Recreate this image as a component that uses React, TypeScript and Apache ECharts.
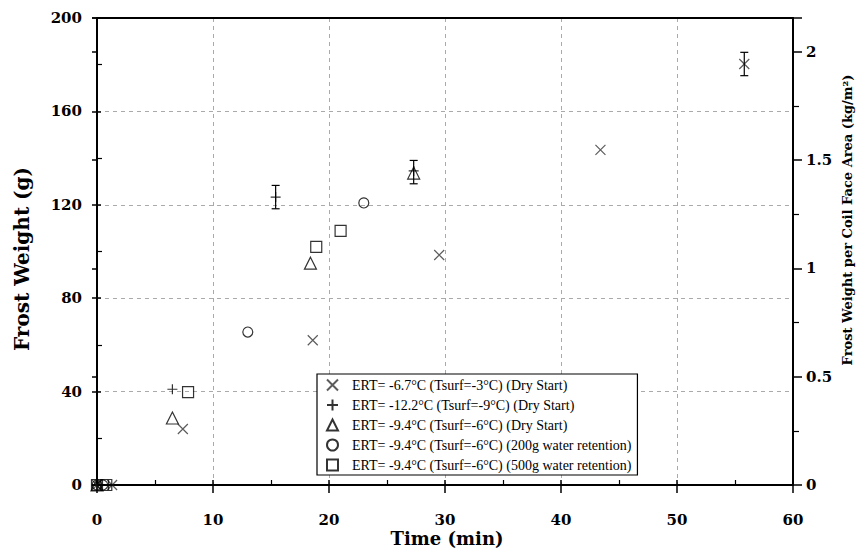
import React, { useEffect, useRef } from "react";
import * as echarts from "echarts";

const seriesNames = [
  "ERT= -6.7°C (Tsurf=-3°C) (Dry Start)",
  "ERT= -12.2°C (Tsurf=-9°C) (Dry Start)",
  "ERT= -9.4°C (Tsurf=-6°C) (Dry Start)",
  "ERT= -9.4°C (Tsurf=-6°C) (200g water retention)",
  "ERT= -9.4°C (Tsurf=-6°C) (500g water retention)",
];

// [time (min), frost weight (g)]
const ert67: number[][] = [[0, 0], [1.3, 0], [7.4, 24], [18.6, 62], [29.5, 98.5], [43.4, 143.5], [55.8, 180.3]];
const ert122: number[][] = [[0, 0], [1.0, 0], [6.5, 41], [15.4, 123.3], [27.3, 134.5]];
const ert94dry: number[][] = [[0, 0], [6.5, 28.7], [18.4, 95], [27.3, 133.6]];
const ert94w200: number[][] = [[0, 0], [0.5, 0], [13.0, 65.5], [23.0, 120.8]];
const ert94w500: number[][] = [[0, 0], [0.8, 0], [7.85, 39.8], [18.9, 102], [21.0, 108.8]];

// [time, weight, ± error]
const errorBars: number[][] = [[15.4, 123.3, 5], [27.3, 134, 5], [55.8, 180.3, 5]];

const xTicks = { min: 0, max: 60, interval: 10 };
const yTicks = { min: 0, max: 200, interval: 40 };
const rightMax = 2.156; // kg/m² equivalent of 200 g
const rightInterval = 0.5;

const SERIF_B = "'DejaVu Serif'";
const TIMES = "'Liberation Serif', 'Times New Roman', serif";

const CROSS = "path://M0,0L10,10M10,0L0,10";
const PLUS = "path://M5,0L5,10M0,5L10,5";

export default function App() {
  const ref = useRef<HTMLDivElement>(null);
  useEffect(() => {
    if (!ref.current) return;
    const chart = echarts.init(ref.current, null, { renderer: "svg" });
    const tickLabel = { fontFamily: SERIF_B, fontWeight: "bold" as const, fontSize: 15, color: "#000" };
    const grid = { left: 97, right: 69, top: 18, bottom: 65 };
    const dashed = { show: true, lineStyle: { color: "#aaa", type: [4, 4] as any, width: 1 } };
    const mkScatter = (name: string, data: number[][], symbol: string, size: number, color = "#000") => ({
      type: "scatter",
      name,
      data,
      symbol,
      symbolSize: size,
      xAxisIndex: 0,
      yAxisIndex: 0,
      itemStyle: { color: "rgba(0,0,0,0)", borderColor: color, borderWidth: 1.2 },
      emphasis: { disabled: true },
      z: 5,
    });
    chart.setOption({
      animation: false,
      grid,
      xAxis: [
        {
          type: "value", position: "bottom", ...xTicks,
          axisLine: { show: true, onZero: false, lineStyle: { color: "#000", width: 2 } },
          axisTick: { show: true, inside: false, length: 8, lineStyle: { color: "#000", width: 1.5 } },
          axisLabel: { ...tickLabel, margin: 27 },
          splitLine: dashed,
        },
        {
          type: "value", position: "bottom", ...xTicks,
          axisLine: { show: false },
          axisTick: { show: true, inside: true, length: 5, lineStyle: { color: "#000", width: 1.5 } },
          minorTick: { show: true, splitNumber: 2, length: 5, lineStyle: { color: "#000", width: 1.2 } },
          axisLabel: { show: false },
          splitLine: { show: false },
        },
        {
          type: "value", position: "top", ...xTicks,
          axisLine: { show: true, onZero: false, lineStyle: { color: "#000", width: 2 } },
          axisTick: { show: false },
          axisLabel: { show: false },
          splitLine: { show: false },
        },
      ],
      yAxis: [
        {
          type: "value", position: "left", ...yTicks,
          axisLine: { show: true, onZero: false, lineStyle: { color: "#000", width: 2 } },
          axisTick: { show: true, inside: false, length: 5, lineStyle: { color: "#000", width: 1.5 } },
          axisLabel: { ...tickLabel, margin: 15 },
          splitLine: dashed,
        },
        {
          type: "value", position: "right", min: 0, max: rightMax, interval: rightInterval,
          axisLine: { show: true, onZero: false, lineStyle: { color: "#000", width: 2 } },
          axisTick: { show: true, inside: false, length: 9, lineStyle: { color: "#000", width: 1.5 } },
          minorTick: { show: true, splitNumber: 2, length: 6, lineStyle: { color: "#000", width: 1.2 } },
          axisLabel: {
            ...tickLabel, margin: 13, showMaxLabel: false,
            formatter: (v: number) => (Math.abs(v / rightInterval - Math.round(v / rightInterval)) < 1e-6 ? String(v) : ""),
          },
          splitLine: { show: false },
        },
        {
          type: "value", position: "left", ...yTicks,
          axisLine: { show: false },
          axisTick: { show: true, inside: true, length: 4, lineStyle: { color: "#000", width: 1.5 } },
          minorTick: { show: true, splitNumber: 2, length: 5, lineStyle: { color: "#000", width: 1.2 } },
          axisLabel: { show: false },
          splitLine: { show: false },
        },
        {
          type: "value", position: "right", min: 0, max: rightMax, interval: rightInterval,
          axisLine: { show: false },
          axisTick: { show: true, inside: true, length: 5, lineStyle: { color: "#000", width: 1.5 } },
          axisLabel: { show: false },
          splitLine: { show: false },
        },
      ],
      legend: {
        show: true,
        orient: "vertical",
        left: 317,
        top: 374,
        padding: [4, 6, 3, 9],
        itemGap: 6,
        itemWidth: 11,
        itemHeight: 11,
        borderColor: "#000",
        borderWidth: 1.2,
        backgroundColor: "#fff",
        textStyle: { fontFamily: TIMES, fontSize: 14, lineHeight: 14, color: "#000", padding: [0, 0, 0, 9] },
        data: seriesNames,
        selectedMode: false,
      },
      series: [
        mkScatter(seriesNames[0], ert67, CROSS, 10, "#333"),
        mkScatter(seriesNames[1], ert122, PLUS, 10),
        mkScatter(seriesNames[2], ert94dry, "triangle", 12),
        mkScatter(seriesNames[3], ert94w200, "circle", 10),
        mkScatter(seriesNames[4], ert94w500, "rect", 11),
        {
          type: "custom",
          name: "error",
          xAxisIndex: 0,
          yAxisIndex: 0,
          data: errorBars,
          z: 6,
          renderItem: (params: any, api: any) => {
            const x = api.value(0), y = api.value(1), e = api.value(2);
            const top = api.coord([x, y + e]);
            const bot = api.coord([x, y - e]);
            const w = 4;
            const st = { stroke: "#000", lineWidth: 1.2 };
            return {
              type: "group",
              children: [
                { type: "line", shape: { x1: top[0], y1: top[1], x2: bot[0], y2: bot[1] }, style: st },
                { type: "line", shape: { x1: top[0] - w, y1: top[1], x2: top[0] + w, y2: top[1] }, style: st },
                { type: "line", shape: { x1: bot[0] - w, y1: bot[1], x2: bot[0] + w, y2: bot[1] }, style: st },
              ],
            };
          },
        },
      ],
      graphic: [
        {
          type: "text", x: 22, y: 259, rotation: Math.PI / 2,
          style: { text: "Frost Weight (g)", fontFamily: SERIF_B, fontWeight: "bold", fontSize: 20, fill: "#000", align: "center", verticalAlign: "middle" },
        },
        {
          type: "text", x: 847, y: 220, rotation: Math.PI / 2,
          style: { text: "Frost Weight per Coil Face Area (kg/m²)", fontFamily: SERIF_B, fontWeight: "bold", fontSize: 13, fill: "#000", align: "center", verticalAlign: "middle" },
        },
        {
          type: "text", x: 447, y: 538,
          style: { text: "Time (min)", fontFamily: SERIF_B, fontWeight: "bold", fontSize: 18, fill: "#000", align: "center", verticalAlign: "middle" },
        },
      ],
    });
    return () => chart.dispose();
  }, []);
  return <div ref={ref} style={{ width: 862, height: 550, position: "absolute", left: 0, top: 0 }} />;
}
